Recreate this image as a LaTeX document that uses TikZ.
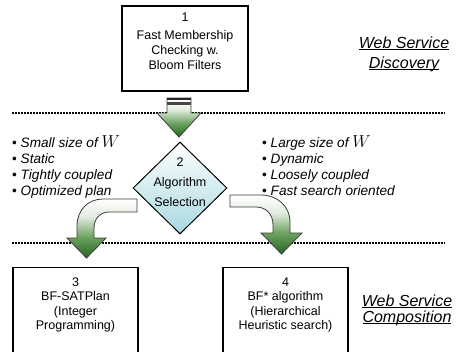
\documentclass[tikz,border=0pt]{standalone}
\usepackage{fontspec}
\setmainfont{Liberation Sans}
\usetikzlibrary{shapes.geometric}

\definecolor{gdark}{RGB}{38,102,32}
\definecolor{gmid}{RGB}{104,160,92}
\definecolor{glight}{RGB}{226,236,223}
\definecolor{cyanlow}{RGB}{168,216,224}
\definecolor{arrowline}{RGB}{60,60,60}

% white at the tail, dark green at the tip of the block arrows
\pgfdeclareverticalshading{arrowshade}{100bp}{color(0bp)=(gdark); color(25bp)=(gdark); color(42bp)=(gmid); color(60bp)=(glight); color(75bp)=(white); color(100bp)=(white)}

% underline at a fixed depth below the baseline
\newcommand\ulabel[1]{\setbox0\hbox{#1}\rlap{\rule[-2pt]{\wd0}{0.9pt}}\box0}

\begin{document}
\begin{tikzpicture}[x=1pt,y=-1pt,
  box/.style={draw, line width=1.3pt, minimum width=126pt, inner sep=0pt},
  boxtext/.style={font=\fontsize{12.5}{15}\selectfont, align=center, inner sep=0pt, anchor=north},
  bullets/.style={font=\fontsize{13.6}{16}\selectfont\itshape, align=left, inner sep=0pt, anchor=north west},
  section/.style={font=\fontsize{16}{16}\selectfont\itshape, align=center, inner sep=0pt, anchor=north},
  blockarrow/.style={draw=arrowline, line width=0.8pt, shade, shading=arrowshade},
  decision/.style={diamond, draw, line width=1pt, minimum width=94pt, minimum height=92pt, inner sep=0pt, top color=white, bottom color=cyanlow},
  divider/.style={line width=1.3pt, dash pattern=on 1.5pt off 1.5pt}]

\useasboundingbox (0,0) rectangle (458,351);
\clip (0,0) rectangle (458,351);

% section dividers
\coordinate (d1a) at (12,113);
\coordinate (d1b) at (445,113);
\coordinate (d2a) at (12,243);
\coordinate (d2b) at (445,243);
\draw[divider] (d1a) -- (d1b);
\draw[divider] (d2a) -- (d2b);

% discovery step
\node[box, minimum height=85pt] (discover) at (185,48.5) {};
\node[boxtext] (discovert) at (185,12.5) {1\\[3pt]Fast Membership\\Checking w.\\Bloom Filters};

% selection step
\node[decision] (select) at (180,188) {};
\node[boxtext, font=\fontsize{12.5}{20}\selectfont] (selectt) at (180,157.5) {2\\Algorithm\\Selection};

% composition methods
\node[box, minimum width=125pt, minimum height=100pt, anchor=north] (satplan) at (75.5,267) {};
\node[boxtext, font=\fontsize{12.5}{14.5}\selectfont] (satplant) at (75.5,277.5) {3\\BF-SATPlan\\(Integer\\Programming)};
\node[box, minimum width=125pt, minimum height=100pt, anchor=north] (bfstar) at (285.5,267) {};
\node[boxtext, font=\fontsize{12.5}{14.5}\selectfont] (bfstart) at (285.5,277.5) {4\\BF* algorithm\\(Hierarchical\\Heuristic search)};

% criteria
\node[bullets] (leftcrit) at (12,135) {{\upshape\textbullet}~Small size of {\fontsize{16}{16}\selectfont$W$}\\{\upshape\textbullet}~Static\\{\upshape\textbullet}~Tightly coupled\\{\upshape\textbullet}~Optimized plan};
\node[bullets] (rightcrit) at (262,135) {{\upshape\textbullet}~Large size of {\fontsize{16}{16}\selectfont$W$}\\{\upshape\textbullet}~Dynamic\\{\upshape\textbullet}~Loosely coupled\\{\upshape\textbullet}~Fast search oriented};

% section labels
\node[section] (disclabel) at (404,36.3) {\ulabel{Web Service}\\[4pt]\ulabel{Discovery}};
\node[section] (complabel) at (407,294.3) {\ulabel{Web Service}\\\ulabel{Composition}};

% block arrows
\path[blockarrow] (167,98) -- (191,98) -- (191,113) -- (201,113) -- (179,137) -- (157,113) -- (167,113) -- cycle;
\fill[black!85] (167,98) rectangle (191,100.3);
\fill[black!72] (167,101.8) rectangle (191,104.5);

\path[blockarrow] (137,199) -- (103,199) .. controls (88,199) and (77,210) .. (77,226) -- (77,238) -- (67,238) -- (86.5,258) -- (106,238) -- (94,238) -- (94,228) .. controls (94,219) and (100,212) .. (109,212) -- (137,212) -- cycle;

\path[blockarrow] (230,195) -- (261,195) .. controls (277,195) and (290,206) .. (290,222) -- (290,233) -- (302,233) -- (281.5,254) -- (261,233) -- (273,233) -- (273,225) .. controls (273,214) and (266,207) .. (256,207) -- (230,207) -- cycle;

\end{tikzpicture}
\end{document}
